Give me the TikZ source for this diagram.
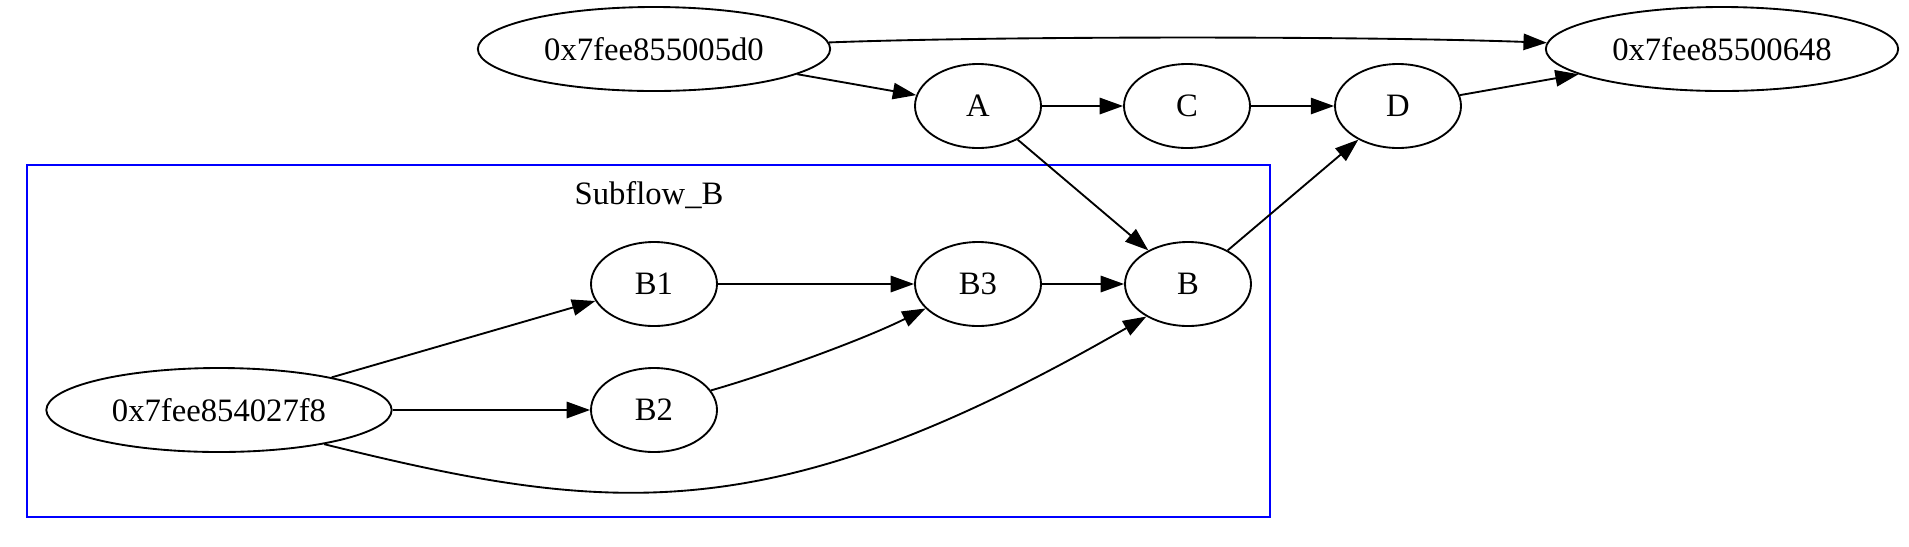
\documentclass[tikz,border=0pt]{standalone}
\usepackage{fontspec}
\setmainfont{Liberation Serif}
\usetikzlibrary{arrows.meta,shapes.geometric}
\begin{document}
\begin{tikzpicture}[x=0.42857pt,y=-0.42857pt,
  every node/.style={font=\fontsize{14pt}{16pt}\selectfont},
  gnode/.style={draw,ellipse,line width=0.8pt,inner sep=0pt,minimum width=54pt,minimum height=36pt},
  wnode/.style={gnode,minimum width=151pt},
  edge/.style={draw,line width=0.8pt,-{Triangle[length=10pt,width=7pt]}},
  cluster/.style={draw=blue,line width=0.9pt}]
\useasboundingbox (0,0) rectangle (1909,546);
\draw[cluster] (27,165) rectangle (1270,517);
\node (lab) at (649,195) {Subflow\_B};
\node[wnode] (n5d0) at (654,49) {0x7fee855005d0};
\node[wnode] (n648) at (1722,49) {0x7fee85500648};
\node[gnode] (A) at (978,106) {A};
\node[gnode] (C) at (1187,106) {C};
\node[gnode] (D) at (1398,106) {D};
\node[gnode] (B) at (1188,284) {B};
\node[gnode] (B1) at (654,284) {B1};
\node[gnode] (B3) at (978,284) {B3};
\node[gnode] (B2) at (654,410) {B2};
\node[wnode,minimum width=148pt] (n27f8) at (219,410) {0x7fee854027f8};
\coordinate (c1) at (1000,36);
\coordinate (c2) at (1360,36);
\path[edge] (n5d0) .. controls (c1) and (c2) .. (n648);
\path[edge] (n5d0) -- (A);
\path[edge] (A) -- (C);
\path[edge] (C) -- (D);
\path[edge] (D) -- (n648);
\path[edge] (A) -- (B);
\path[edge] (B) -- (D);
\path[edge] (B1) -- (B3);
\path[edge] (B3) -- (B);
\path[edge] (n27f8) -- (B1);
\path[edge] (n27f8) -- (B2);
\coordinate (c3) at (772,373);
\coordinate (c4) at (867,338);
\path[edge] (B2.19) .. controls (c3) and (c4) .. (B3.205);
\coordinate (c5) at (607,514);
\coordinate (c6) at (769,534);
\path[edge] (n27f8.-18) .. controls (c5) and (c6) .. (B.218);
\end{tikzpicture}
\end{document}
